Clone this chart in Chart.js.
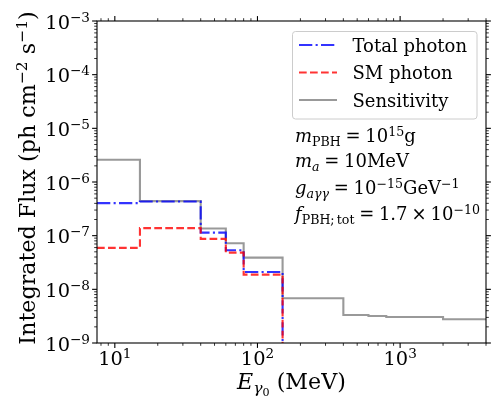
<!DOCTYPE html>
<html>
<head>
<meta charset="UTF-8">
<script src="https://cdn.jsdelivr.net/npm/chart.js"></script>
<style>
  html, body { margin: 0; padding: 0; background: #fff; }
</style>
</head>
<body>
<canvas id="fluxChart" width="491" height="399"></canvas>
<script>
// lower bin edges (MeV), each value holds until the next edge
const sensEdges = [7.5, 15, 40, 60, 80, 150, 400, 600, 800, 2000, 4000];
const sensFlux = [2.59e-6, 4.4e-7, 1.36e-7, 7.24e-8, 3.9e-8, 6.83e-9, 3.32e-9, 3.19e-9, 3.06e-9, 2.77e-9, 2.77e-9];
const photonEdges = [7.5, 15, 40, 60, 80, 150];
const totalFlux = [4.04e-7, 4.33e-7, 1.14e-7, 5.36e-8, 2.11e-8, 1e-12];
const smFlux = [5.92e-8, 1.38e-7, 8.71e-8, 4.84e-8, 1.88e-8, 1e-12];
const xTickExps = [1, 2, 3];
const yTickExps = [-9, -8, -7, -6, -5, -4, -3];

const FONT = '"DejaVu Serif"';

function toPoints(xs, ys) {
    return xs.map((x, i) => ({ x: x, y: ys[i] }));
}

// draws a row of text pieces (italic / sub / superscript / gaps), returns width
function drawRuns(ctx, x, y, runs, size, align) {
    let w = 0;
    const items = runs.map(r => {
        if (r.g) {
            w += r.g * size;
            return { t: '', width: r.g * size, dy: 0, font: null };
        }
        const s = size * (r.s || 1);
        const font = (r.i ? 'italic ' : '') + s.toFixed(2) + 'px ' + FONT;
        ctx.font = font;
        const width = ctx.measureText(r.t).width;
        w += width;
        return { t: r.t, font: font, width: width, dy: (r.dy || 0) * size };
    });
    let cx = x;
    if (align === 'center') cx = x - w / 2;
    if (align === 'right') cx = x - w;
    items.forEach(it => {
        if (it.font) {
            ctx.font = it.font;
            ctx.fillText(it.t, cx, y + it.dy);
        }
        cx += it.width;
    });
    return w;
}

function sup(t) { return { t: t, s: 0.7, dy: -0.36 }; }
function sub(t, it) { return { t: t, s: 0.7, dy: 0.2, i: it }; }
function gap(em) { return { g: em }; }

const axesPlugin = {
    id: 'axesPlugin',
    afterDraw(chart) {
        const ctx = chart.ctx;
        const a = chart.chartArea;
        const xs = chart.scales.x, ys = chart.scales.y;
        ctx.save();
        ctx.fillStyle = '#000';
        ctx.strokeStyle = '#000';
        ctx.textBaseline = 'alphabetic';

        // spines
        ctx.lineWidth = 1.1;
        ctx.strokeRect(a.left, a.top, a.right - a.left, a.bottom - a.top);

        // ticks on all four sides, pointing out
        function tick(x1, y1, x2, y2, w) {
            ctx.lineWidth = w;
            ctx.beginPath();
            ctx.moveTo(x1, y1);
            ctx.lineTo(x2, y2);
            ctx.stroke();
        }
        for (let e = 0; e <= 3; e++) {
            for (let m = 1; m <= 9; m++) {
                const v = m * Math.pow(10, e);
                if (v < xs.min || v > xs.max) continue;
                const px = xs.getPixelForValue(v);
                const len = m === 1 ? 4.9 : 2.8;
                const w = m === 1 ? 1.1 : 0.8;
                tick(px, a.bottom, px, a.bottom + len, w);
                tick(px, a.top, px, a.top - len, w);
            }
        }
        for (let e = -9; e <= -3; e++) {
            for (let m = 1; m <= 9; m++) {
                const v = m * Math.pow(10, e);
                if (v < ys.min * 0.999 || v > ys.max * 1.001) continue;
                const py = ys.getPixelForValue(v);
                const len = m === 1 ? 4.9 : 2.8;
                const w = m === 1 ? 1.1 : 0.8;
                tick(a.left, py, a.left - len, py, w);
                tick(a.right, py, a.right + len, py, w);
            }
        }

        // tick labels
        const tf = 19.4;
        xTickExps.forEach(e => {
            const px = xs.getPixelForValue(Math.pow(10, e));
            drawRuns(ctx, px, 365, [{ t: '10' }, sup(String(e))], tf, 'center');
        });
        yTickExps.forEach(e => {
            const py = ys.getPixelForValue(Math.pow(10, e));
            drawRuns(ctx, 90, py + 7.5, [{ t: '10' }, sup('\u2212' + Math.abs(e))], tf, 'right');
        });

        // axis titles
        const lf = 22.2;
        drawRuns(ctx, (a.left + a.right) / 2, 389,
            [{ t: 'E', i: true }, sub('\u03b3', true), { t: '0', s: 0.5, dy: 0.3 }, { t: ' (MeV)' }], lf, 'center');
        ctx.save();
        ctx.translate(35, 178);
        ctx.rotate(-Math.PI / 2);
        drawRuns(ctx, 0, 0,
            [{ t: 'Integrated Flux (ph cm' }, sup('\u22122'), { t: ' s' }, sup('\u22121'), { t: ')' }], lf, 'center');
        ctx.restore();

        // legend
        const gf = 18;
        ctx.fillStyle = 'rgba(255,255,255,0.8)';
        ctx.strokeStyle = '#cccccc';
        ctx.lineWidth = 1;
        ctx.beginPath();
        ctx.roundRect(292.5, 31.5, 184.5, 87.5, 3);
        ctx.fill();
        ctx.stroke();
        const rows = [45, 72.5, 100];
        chart.data.datasets.slice().sort((p, q) => p.legendRank - q.legendRank).forEach((ds, i) => {
            ctx.strokeStyle = ds.borderColor;
            ctx.lineWidth = ds.borderWidth;
            ctx.setLineDash(ds.borderDash || []);
            ctx.beginPath();
            ctx.moveTo(299, rows[i]);
            ctx.lineTo(337, rows[i]);
            ctx.stroke();
            ctx.setLineDash([]);
            ctx.fillStyle = '#000';
            ctx.font = gf + 'px ' + FONT;
            ctx.fillText(ds.label, 352.5, rows[i] + 6.5);
        });

        // parameter notes
        ctx.fillStyle = '#000';
        const nx = 295;
        const eq = [gap(0.26), { t: '=' }, gap(0.26)];
        drawRuns(ctx, nx, 142, [{ t: 'm', i: true }, sub('PBH')].concat(eq, [{ t: '10' }, sup('15'), { t: 'g' }]), gf);
        drawRuns(ctx, nx, 167, [{ t: 'm', i: true }, sub('a', true)].concat(eq, [{ t: '10MeV' }]), gf);
        drawRuns(ctx, nx, 194, [{ t: 'g', i: true }, sub('a\u03b3\u03b3', true)].concat(eq, [{ t: '10' }, sup('\u221215'), { t: 'GeV' }, sup('\u22121')]), gf);
        drawRuns(ctx, nx, 220, [{ t: 'f', i: true }, sub('PBH;'), gap(0.12), sub('tot')].concat(eq, [{ t: '1.7' }, gap(0.22), { t: '\u00d7' }, gap(0.22), { t: '10' }, sup('\u221210')]), gf);

        ctx.restore();
    }
};

const ctx = document.getElementById('fluxChart').getContext('2d');
new Chart(ctx, {
    type: 'line',
    data: {
        datasets: [
            {
                label: 'SM photon',
                legendRank: 1,
                data: toPoints(photonEdges, smFlux),
                borderColor: 'rgba(255,0,0,0.8)',
                borderWidth: 2.1,
                borderDash: [7.7, 3.3],
                stepped: 'before',
                pointRadius: 0,
                fill: false,
                clip: 0
            },
            {
                label: 'Total photon',
                legendRank: 0,
                data: toPoints(photonEdges, totalFlux),
                borderColor: 'rgba(0,0,255,0.8)',
                borderWidth: 2.1,
                borderDash: [13.3, 3.3, 2.1, 3.3],
                stepped: 'before',
                pointRadius: 0,
                fill: false,
                clip: 0
            },
            {
                label: 'Sensitivity',
                legendRank: 2,
                data: toPoints(sensEdges, sensFlux),
                borderColor: 'rgba(128,128,128,0.8)',
                borderWidth: 2.1,
                stepped: 'before',
                pointRadius: 0,
                fill: false,
                clip: 0
            }
        ]
    },
    options: {
        responsive: false,
        animation: false,
        devicePixelRatio: 1,
        layout: { padding: { left: 97, right: 5, top: 21, bottom: 56 } },
        scales: {
            x: { type: 'logarithmic', min: 7.5, max: 4000, display: false },
            y: { type: 'logarithmic', min: 1e-9, max: 1e-3, display: false }
        },
        plugins: {
            legend: { display: false },
            tooltip: { enabled: false }
        }
    },
    plugins: [axesPlugin]
});
</script>
</body>
</html>
